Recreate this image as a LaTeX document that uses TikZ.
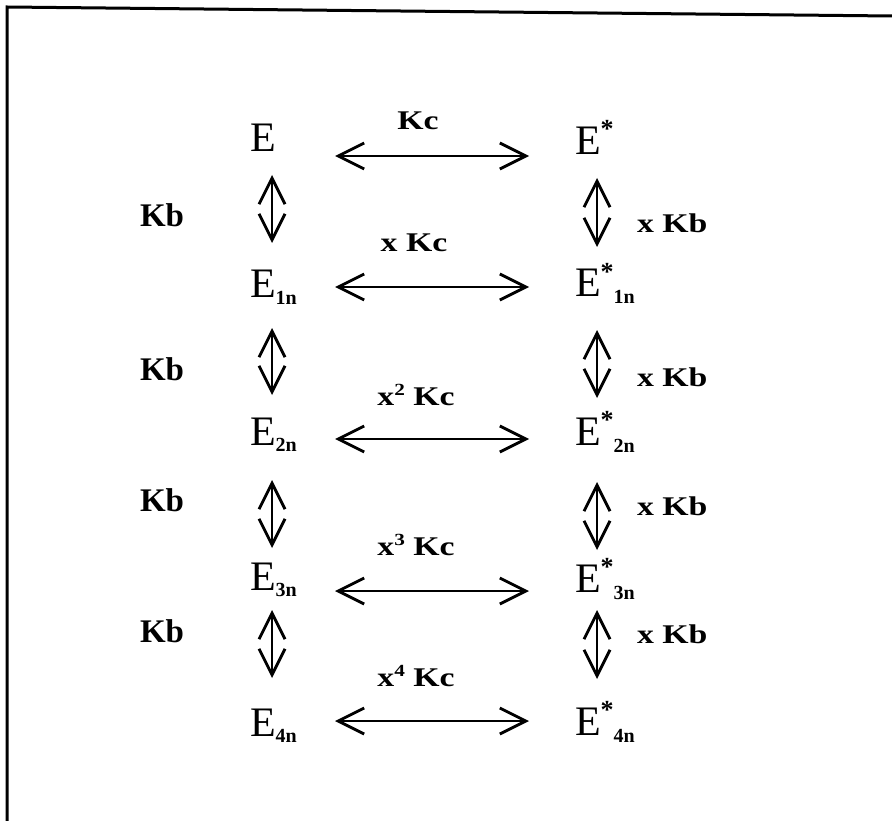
\documentclass[tikz,border=0pt]{standalone}
\usepackage{fontspec}
\setmainfont{Liberation Serif}
\usetikzlibrary{arrows.meta}
\newcommand\widelbl[1]{\scalebox{1.25}[1]{#1}}
\newcommand\esub[1]{\raisebox{-6.5pt}{\fontsize{20}{20}\selectfont\bfseries #1}}
\newcommand\ssub[1]{\raisebox{-7pt}{\fontsize{20}{20}\selectfont\bfseries #1}}
\newcommand\estar{\raisebox{17pt}{\fontsize{26}{26}\selectfont\bfseries *}}
\newcommand\supx[1]{\raisebox{10pt}{\fontsize{17}{17}\selectfont #1}}
\begin{document}
\begin{tikzpicture}[x=1pt,y=-1pt,
  txt/.style={inner sep=0pt, outer sep=0pt, anchor=base west},
  ename/.style={txt, font=\fontsize{42}{42}\selectfont},
  kbl/.style={txt, font=\fontsize{33}{33}\selectfont\bfseries},
  rlbl/.style={txt, font=\fontsize{27}{27}\selectfont\bfseries},
  clbl/.style={inner sep=0pt, outer sep=0pt, anchor=base, font=\fontsize{27}{27}\selectfont\bfseries},
  dbl/.style={line width=2.9pt, {Straight Barb[length=26pt,width=26pt]}-{Straight Barb[length=26pt,width=26pt]}},
  frame/.style={line width=3pt}
]
\useasboundingbox (0,0) rectangle (892,821);
% frame (top and left edges only)
\coordinate (fb) at (7,821);
\coordinate (fc) at (7,7);
\coordinate (fr) at (892,16);
\draw[frame] (fb) -- (fc) -- (fr);

% left column
\node[ename] (E0) at (250,152) {E};
\node[ename] (E1) at (250,298) {E\esub{1n}};
\node[ename] (E2) at (250,445) {E\esub{2n}};
\node[ename] (E3) at (250,590) {E\esub{3n}};
\node[ename] (E4) at (250,736) {E\esub{4n}};

% right column
\node[ename] (S0) at (575,155) {E\estar};
\node[ename] (S1) at (575,297) {E\estar\ssub{1n}};
\node[ename] (S2) at (575,445) {E\estar\ssub{2n}};
\node[ename] (S3) at (575,592) {E\estar\ssub{3n}};
\node[ename] (S4) at (575,735) {E\estar\ssub{4n}};

% horizontal labels
\node[clbl] (c0) at (418,130) {\widelbl{Kc}};
\node[clbl] (c1) at (414,252) {\widelbl{x Kc}};
\node[clbl] (c2) at (416,405) {\widelbl{x\supx{2} Kc}};
\node[clbl] (c3) at (416,555) {\widelbl{x\supx{3} Kc}};
\node[clbl] (c4) at (416,686) {\widelbl{x\supx{4} Kc}};

% left Kb labels
\node[kbl] (b1) at (140,227) {Kb};
\node[kbl] (b2) at (140,380) {Kb};
\node[kbl] (b3) at (140,511) {Kb};
\node[kbl] (b4) at (140,642) {Kb};

% right x Kb labels
\node[rlbl] (r1) at (637,233) {\widelbl{x Kb}};
\node[rlbl] (r2) at (637,386) {\widelbl{x Kb}};
\node[rlbl] (r3) at (637,515) {\widelbl{x Kb}};
\node[rlbl] (r4) at (637,643) {\widelbl{x Kb}};

% horizontal arrow ends
\coordinate (h0l) at (335,156); \coordinate (h0r) at (529,156);
\coordinate (h1l) at (335,287); \coordinate (h1r) at (529,287);
\coordinate (h2l) at (335,439); \coordinate (h2r) at (529,439);
\coordinate (h3l) at (335,591); \coordinate (h3r) at (529,591);
\coordinate (h4l) at (335,721); \coordinate (h4r) at (529,721);
\draw[dbl] (h0l) -- (h0r);
\draw[dbl] (h1l) -- (h1r);
\draw[dbl] (h2l) -- (h2r);
\draw[dbl] (h3l) -- (h3r);
\draw[dbl] (h4l) -- (h4r);

% vertical arrow ends
\coordinate (l1t) at (272,175); \coordinate (l1b) at (272,243);
\coordinate (l2t) at (272,328); \coordinate (l2b) at (272,395);
\coordinate (l3t) at (272,480); \coordinate (l3b) at (272,548);
\coordinate (l4t) at (272,610); \coordinate (l4b) at (272,678);
\coordinate (r1t) at (597,178); \coordinate (r1b) at (597,247);
\coordinate (r2t) at (597,330); \coordinate (r2b) at (597,398);
\coordinate (r3t) at (597,482); \coordinate (r3b) at (597,550);
\coordinate (r4t) at (597,610); \coordinate (r4b) at (597,679);
\draw[dbl] (l1t) -- (l1b);
\draw[dbl] (l2t) -- (l2b);
\draw[dbl] (l3t) -- (l3b);
\draw[dbl] (l4t) -- (l4b);
\draw[dbl] (r1t) -- (r1b);
\draw[dbl] (r2t) -- (r2b);
\draw[dbl] (r3t) -- (r3b);
\draw[dbl] (r4t) -- (r4b);
\end{tikzpicture}
\end{document}
